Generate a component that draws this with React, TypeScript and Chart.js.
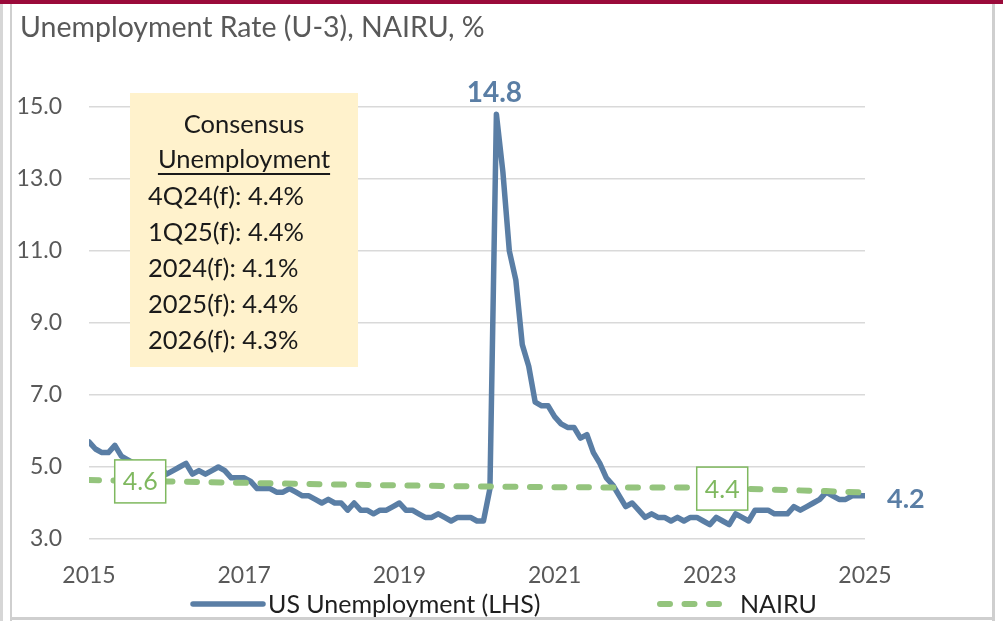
import React, { useEffect, useRef } from 'react';
import { Chart, registerables } from 'chart.js';

Chart.register(...registerables);

// ---- data ----
const START_YEAR = 2015;
// Monthly U-3 unemployment rate, Jan 2015 .. Jan 2025
const unemployment: number[] = [
  5.7, 5.5, 5.4, 5.4, 5.6, 5.3, 5.2, 5.1, 5.0, 5.0, 5.1, 5.0,
  4.8, 4.9, 5.0, 5.1, 4.8, 4.9, 4.8, 4.9, 5.0, 4.9, 4.7, 4.7,
  4.7, 4.6, 4.4, 4.4, 4.4, 4.3, 4.3, 4.4, 4.3, 4.2, 4.2, 4.1,
  4.0, 4.1, 4.0, 4.0, 3.8, 4.0, 3.8, 3.8, 3.7, 3.8, 3.8, 3.9,
  4.0, 3.8, 3.8, 3.7, 3.6, 3.6, 3.7, 3.6, 3.5, 3.6, 3.6, 3.6,
  3.5, 3.5, 4.4, 14.8, 13.2, 11.0, 10.2, 8.4, 7.8, 6.8, 6.7, 6.7,
  6.4, 6.2, 6.1, 6.1, 5.8, 5.9, 5.4, 5.1, 4.7, 4.5, 4.2, 3.9,
  4.0, 3.8, 3.6, 3.7, 3.6, 3.6, 3.5, 3.6, 3.5, 3.6, 3.6, 3.5,
  3.4, 3.6, 3.5, 3.4, 3.7, 3.6, 3.5, 3.8, 3.8, 3.8, 3.7, 3.7,
  3.7, 3.9, 3.8, 3.9, 4.0, 4.1, 4.3, 4.2, 4.1, 4.1, 4.2, 4.2,
  4.2,
];

// NAIRU (decimal year, %)
const nairuDates: number[] = [2015, 2016, 2017, 2018, 2019, 2020, 2021, 2022, 2023, 2023.5, 2024, 2024.5, 2025];
const nairuValues: number[] = [4.64, 4.6, 4.56, 4.52, 4.49, 4.46, 4.44, 4.43, 4.43, 4.39, 4.36, 4.33, 4.29];

// NAIRU value call-outs
const nairuLabelDates: number[] = [2015.66, 2023.16];
const nairuLabelValues: number[] = [4.6, 4.4];

const xTickYears: number[] = [2015, 2017, 2019, 2021, 2023, 2025];
const yTicks: number[] = [3, 5, 7, 9, 11, 13, 15];

const consensusTitle = ['Consensus', 'Unemployment'];
const consensusLines = ['4Q24(f): 4.4%', '1Q25(f): 4.4%', '2024(f): 4.1%', '2025(f): 4.4%', '2026(f): 4.3%'];

const TITLE = 'Unemployment Rate (U-3), NAIRU, %';

// ---- styles ----
const FONT = "Lato, 'Noto Sans', sans-serif";
const BLUE = '#5A7EA5';
const GREEN = '#94C47D';
const GREEN_DARK = '#7FB85F';
const GRAY_TEXT = '#595959';

const decorPlugin = {
  id: 'decor',
  beforeDraw(chart: any) {
    const { ctx, width, height } = chart;
    ctx.save();
    ctx.fillStyle = '#ffffff';
    ctx.fillRect(0, 0, width, height);
    // frame
    ctx.fillStyle = '#d6d6d6';
    ctx.fillRect(0, 0, 3, height);
    ctx.fillStyle = '#cfcfcf';
    ctx.fillRect(10, 0, 2, height);
    ctx.fillRect(992, 0, 3, height);
    ctx.fillRect(10, 617, 985, 3);
    ctx.fillStyle = '#9A0A3A';
    ctx.fillRect(0, 0, width, 4);
    // title
    ctx.fillStyle = GRAY_TEXT;
    ctx.font = `28.5px ${FONT}`;
    ctx.textAlign = 'left';
    ctx.textBaseline = 'alphabetic';
    ctx.fillText(TITLE, 20, 37);
    ctx.restore();
  },
  afterDatasetsDraw(chart: any) {
    const { ctx } = chart;
    const xs = chart.scales.x;
    const ys = chart.scales.y;
    ctx.save();
    // peak label
    let peakIdx = 0;
    unemployment.forEach((v, i) => { if (v > unemployment[peakIdx]) peakIdx = i; });
    const px = xs.getPixelForValue(START_YEAR + peakIdx / 12);
    const py = ys.getPixelForValue(unemployment[peakIdx]);
    ctx.fillStyle = BLUE;
    ctx.font = `bold 28px ${FONT}`;
    ctx.textAlign = 'center';
    ctx.textBaseline = 'alphabetic';
    ctx.fillText(unemployment[peakIdx].toFixed(1), px - 2, py - 12);
    // last value label
    const li = unemployment.length - 1;
    const lx = xs.getPixelForValue(START_YEAR + li / 12);
    const ly = ys.getPixelForValue(unemployment[li]);
    ctx.font = `bold 27px ${FONT}`;
    ctx.textAlign = 'left';
    ctx.fillText(unemployment[li].toFixed(1), lx + 22, ly + 12);
    // NAIRU boxes
    nairuLabelDates.forEach((d, i) => {
      const cx = xs.getPixelForValue(d);
      const cy = ys.getPixelForValue(nairuLabelValues[i]);
      const w = 51, h = 43;
      ctx.fillStyle = '#ffffff';
      ctx.fillRect(cx - w / 2, cy - h / 2, w, h);
      ctx.strokeStyle = GREEN_DARK;
      ctx.lineWidth = 1.5;
      ctx.setLineDash([]);
      ctx.strokeRect(cx - w / 2, cy - h / 2, w, h);
      ctx.fillStyle = GREEN_DARK;
      ctx.font = `25px ${FONT}`;
      ctx.textAlign = 'center';
      ctx.fillText(nairuLabelValues[i].toFixed(1), cx, cy + 9);
    });
    ctx.restore();
  },
  afterDraw(chart: any) {
    const { ctx, chartArea } = chart;
    ctx.save();
    // consensus box
    const bx = chartArea.left + 41, by = chartArea.top - 14, bw = 228, bh = 274;
    ctx.fillStyle = '#FFF2CC';
    ctx.fillRect(bx, by, bw, bh);
    ctx.fillStyle = '#1a1a1a';
    ctx.font = `25.5px ${FONT}`;
    ctx.textBaseline = 'alphabetic';
    ctx.textAlign = 'center';
    const cx = bx + bw / 2;
    ctx.fillText(consensusTitle[0], cx, by + 40);
    ctx.fillText(consensusTitle[1], cx, by + 75);
    const uw = ctx.measureText(consensusTitle[1]).width;
    ctx.fillRect(cx - uw / 2, by + 80, uw, 2);
    ctx.textAlign = 'left';
    consensusLines.forEach((t, i) => {
      ctx.fillText(t, bx + 18, by + 112 + i * 36);
    });
    // legend
    const ds = chart.data.datasets;
    const items = [
      { d: ds[0], x0: 193, x1: 263, tx: 268 },
      { d: ds[1], x0: 660, x1: 727, tx: 740 },
    ];
    const legY = 604;
    items.forEach(({ d, x0, x1, tx }) => {
      ctx.beginPath();
      ctx.strokeStyle = d.borderColor;
      ctx.lineWidth = d.borderWidth;
      ctx.lineCap = d.borderCapStyle || 'round';
      ctx.setLineDash(d.borderDash || []);
      ctx.moveTo(x0, legY);
      ctx.lineTo(x1, legY);
      ctx.stroke();
      ctx.setLineDash([]);
      ctx.fillStyle = '#1f1f1f';
      ctx.font = `25px ${FONT}`;
      ctx.textAlign = 'left';
      ctx.textBaseline = 'alphabetic';
      ctx.fillText(d.label, tx, 613);
    });
    ctx.restore();
  },
};

export default function App() {
  const ref = useRef<HTMLCanvasElement | null>(null);
  useEffect(() => {
    document.body.style.margin = '0';
    if (!ref.current) return;
    const chart = new Chart(ref.current, {
      type: 'line',
      data: {
        datasets: [
          {
            label: 'US Unemployment (LHS)',
            data: unemployment.map((v, i) => ({ x: START_YEAR + i / 12, y: v })),
            borderColor: BLUE,
            backgroundColor: BLUE,
            borderWidth: 5.5,
            borderJoinStyle: 'round',
            borderCapStyle: 'round',
            pointRadius: 0,
            tension: 0,
            order: 1,
          },
          {
            label: 'NAIRU',
            data: nairuDates.map((d, i) => ({ x: d, y: nairuValues[i] })),
            borderColor: GREEN,
            backgroundColor: GREEN,
            borderWidth: 6,
            borderDash: [10, 14.5],
            borderCapStyle: 'round',
            pointRadius: 0,
            tension: 0,
            order: 0,
          },
        ],
      } as any,
      options: {
        animation: false,
        responsive: false,
        devicePixelRatio: 1,
        layout: { padding: { top: 107, right: 138, left: 0, bottom: 0 } },
        plugins: {
          legend: { display: false },
          tooltip: { enabled: false },
          title: { display: false },
        },
        scales: {
          x: {
            type: 'linear',
            min: xTickYears[0],
            max: xTickYears[xTickYears.length - 1],
            afterBuildTicks: (scale: any) => {
              scale.ticks = xTickYears.map((v) => ({ value: v }));
            },
            afterFit: (scale: any) => { scale.height = 82; },
            ticks: {
              callback: (v: any) => String(v),
              font: { family: FONT, size: 23 },
              color: GRAY_TEXT,
              padding: 23,
              maxRotation: 0,
              autoSkip: false,
            },
            grid: { display: false, drawTicks: false },
            border: { display: false },
          },
          y: {
            min: yTicks[0],
            max: yTicks[yTicks.length - 1],
            afterBuildTicks: (scale: any) => {
              scale.ticks = yTicks.map((v) => ({ value: v }));
            },
            afterFit: (scale: any) => { scale.width = 89; },
            ticks: {
              callback: (v: any) => Number(v).toFixed(1),
              font: { family: FONT, size: 23 },
              color: GRAY_TEXT,
              padding: 27,
            },
            grid: { color: '#D9D9D9', lineWidth: 1.5, drawTicks: false },
            border: { display: false },
          },
        },
      } as any,
      plugins: [decorPlugin],
    });
    return () => chart.destroy();
  }, []);
  return (
    <div style={{ width: 1003, height: 621 }}>
      <canvas ref={ref} width={1003} height={621} style={{ display: 'block' }} />
    </div>
  );
}
